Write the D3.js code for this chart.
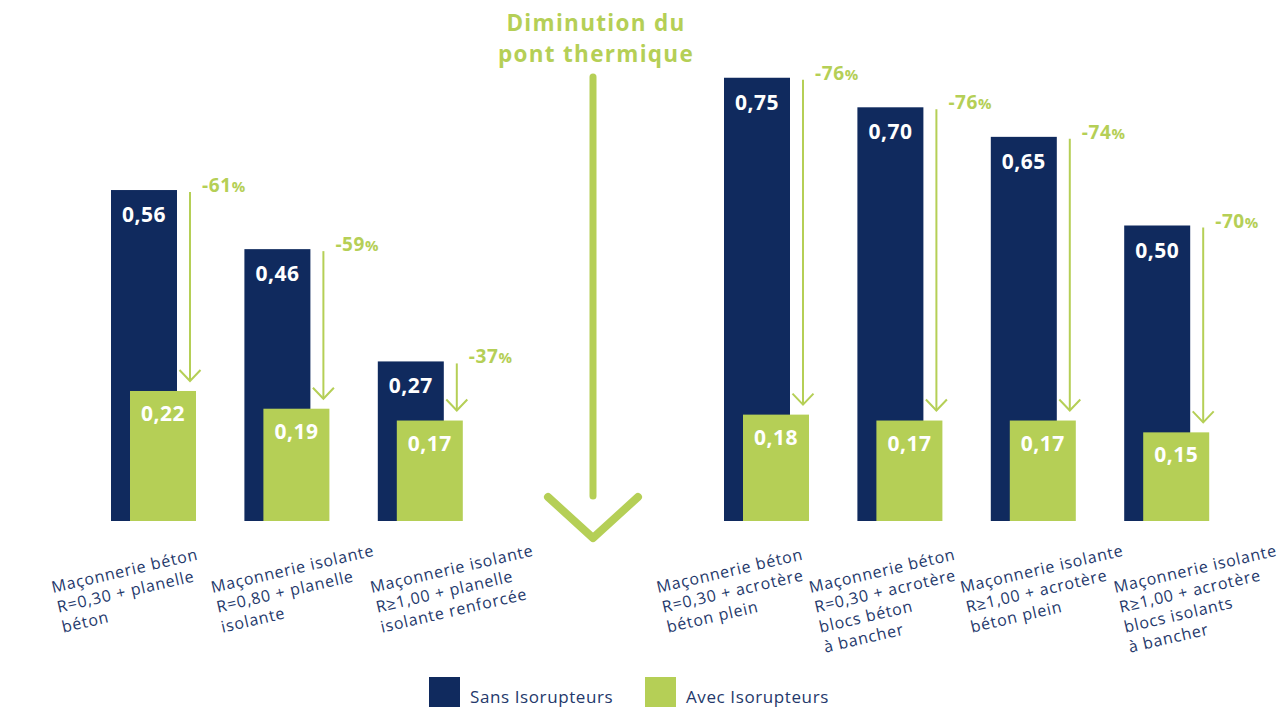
<!DOCTYPE html>
<html>
<head>
<meta charset="utf-8">
<script src="https://cdn.jsdelivr.net/npm/d3@7"></script>
<style>
  body { margin: 0; background: #fff; }
  svg { display: block; font-family: "Open Sans", sans-serif; }
</style>
</head>
<body>
<svg id="chart" width="1285" height="707"></svg>
<script>
// data
const categories = [
    ["Maçonnerie béton", "R=0,30 + planelle", "béton"],
    ["Maçonnerie isolante", "R=0,80 + planelle", "isolante"],
    ["Maçonnerie isolante", "R≥1,00 + planelle", "isolante renforcée"],
    ["Maçonnerie béton", "R=0,30 + acrotère", "béton plein"],
    ["Maçonnerie béton", "R=0,30 + acrotère", "blocs béton", "à bancher"],
    ["Maçonnerie isolante", "R≥1,00 + acrotère", "béton plein"],
    ["Maçonnerie isolante", "R≥1,00 + acrotère", "blocs isolants", "à bancher"]
];
const sansValues = [0.56, 0.46, 0.27, 0.75, 0.70, 0.65, 0.50];
const avecValues = [0.22, 0.19, 0.17, 0.18, 0.17, 0.17, 0.15];
const reductions = ["-61", "-59", "-37", "-76", "-76", "-74", "-70"];
const leftGroup = [0, 1, 2];
const rightGroup = [3, 4, 5, 6];
const seriesNames = ["Sans Isorupteurs", "Avec Isorupteurs"];
const title = ["Diminution du", "pont thermique"];

// layout
const navy = "#102a5e", green = "#b5cf56", labelColor = "#24386b";
const barW = 66, greenShift = 19, step = 133.4;
const labelDx = [-58, -32, -6, -66, -47, -29, -9];
const labelY = 593;

const svg = d3.select("#chart");

const y = d3.scaleLinear().domain([0, 0.8]).range([521, 521 - 0.8 * 591]);
const xLeft = d3.scaleBand().domain(leftGroup).range([111, 111 + leftGroup.length * step]);
const xRight = d3.scaleBand().domain(rightGroup).range([724, 724 + rightGroup.length * step]);
const x = i => leftGroup.includes(i) ? xLeft(i) : xRight(i);

const idx = d3.range(sansValues.length);

// navy bars
svg.append("g").selectAll("rect")
    .data(idx).enter().append("rect")
    .attr("x", i => x(i))
    .attr("y", i => y(sansValues[i]))
    .attr("width", barW)
    .attr("height", i => y(0) - y(sansValues[i]))
    .attr("fill", navy);

// green bars
svg.append("g").selectAll("rect")
    .data(idx).enter().append("rect")
    .attr("x", i => x(i) + greenShift)
    .attr("y", i => y(avecValues[i]))
    .attr("width", barW)
    .attr("height", i => y(0) - y(avecValues[i]))
    .attr("fill", green);

// value labels
const fmt = v => d3.format(".2f")(v).replace(".", ",");
svg.append("g").selectAll("text")
    .data(idx).enter().append("text")
    .attr("x", i => x(i) + barW / 2)
    .attr("y", i => y(sansValues[i]) + 32)
    .attr("text-anchor", "middle")
    .attr("fill", "#fff").attr("font-weight", 700).attr("font-size", 21)
    .attr("letter-spacing", 0.5)
    .text(i => fmt(sansValues[i]));
svg.append("g").selectAll("text")
    .data(idx).enter().append("text")
    .attr("x", i => x(i) + greenShift + barW / 2)
    .attr("y", i => y(avecValues[i]) + 30)
    .attr("text-anchor", "middle")
    .attr("fill", "#fff").attr("font-weight", 700).attr("font-size", 21)
    .attr("letter-spacing", 0.5)
    .text(i => fmt(avecValues[i]));

// reduction arrows
const arrows = svg.append("g").selectAll("g")
    .data(idx).enter().append("g")
    .attr("stroke", green).attr("stroke-width", 2).attr("fill", "none");
const ax = i => x(i) + barW + 13;
arrows.append("line")
    .attr("x1", ax).attr("x2", ax)
    .attr("y1", i => y(sansValues[i]) + 2)
    .attr("y2", i => y(avecValues[i]) - 10);
arrows.append("path")
    .attr("d", i => {
        const tip = y(avecValues[i]) - 10;
        return "M" + (ax(i) - 10.5) + "," + (tip - 11) + "L" + ax(i) + "," + tip + "L" + (ax(i) + 10.5) + "," + (tip - 11);
    });

const pct = svg.append("g").selectAll("text")
    .data(idx).enter().append("text")
    .attr("x", i => ax(i) + 12)
    .attr("y", i => y(sansValues[i]) + 2)
    .attr("fill", green).attr("font-weight", 700);
pct.append("tspan").attr("font-size", 19).attr("letter-spacing", 0.6).text(i => reductions[i]);
pct.append("tspan").attr("font-size", 15).text("%");

// category labels
const labels = svg.append("g").selectAll("text")
    .data(idx).enter().append("text")
    .attr("transform", i => "translate(" + (x(i) + labelDx[i]) + "," + labelY + ") rotate(-13)")
    .attr("fill", labelColor).attr("font-size", 16).attr("letter-spacing", 0.8);
labels.selectAll("tspan")
    .data(i => categories[i]).enter().append("tspan")
    .attr("x", (d, j) => j === 0 ? 0 : 1)
    .attr("dy", (d, j) => j === 0 ? 0 : 20.5)
    .text(d => d);

// centre arrow and title
const cx = 593;
svg.append("line")
    .attr("x1", cx).attr("x2", cx).attr("y1", 77).attr("y2", 496)
    .attr("stroke", green).attr("stroke-width", 7).attr("stroke-linecap", "round");
svg.append("path")
    .attr("d", "M" + (cx - 45) + ",497L" + cx + ",538L" + (cx + 45) + ",497")
    .attr("stroke", green).attr("stroke-width", 8).attr("fill", "none")
    .attr("stroke-linecap", "round").attr("stroke-linejoin", "round");
svg.append("g").selectAll("text")
    .data(title).enter().append("text")
    .attr("x", 596).attr("y", (d, j) => 31 + j * 31)
    .attr("text-anchor", "middle")
    .attr("fill", green).attr("font-weight", 700).attr("font-size", 22.5)
    .attr("letter-spacing", 1.3)
    .text(d => d);

// legend
const legend = svg.append("g").selectAll("g")
    .data(seriesNames).enter().append("g")
    .attr("transform", (d, j) => "translate(" + (429 + j * 216) + ",677)");
legend.append("rect").attr("width", 31).attr("height", 30)
    .attr("fill", (d, j) => j === 0 ? navy : green);
legend.append("text").attr("x", 41).attr("y", 26)
    .attr("fill", labelColor).attr("font-size", 17).attr("letter-spacing", 0.6)
    .text(d => d);
</script>
</body>
</html>
